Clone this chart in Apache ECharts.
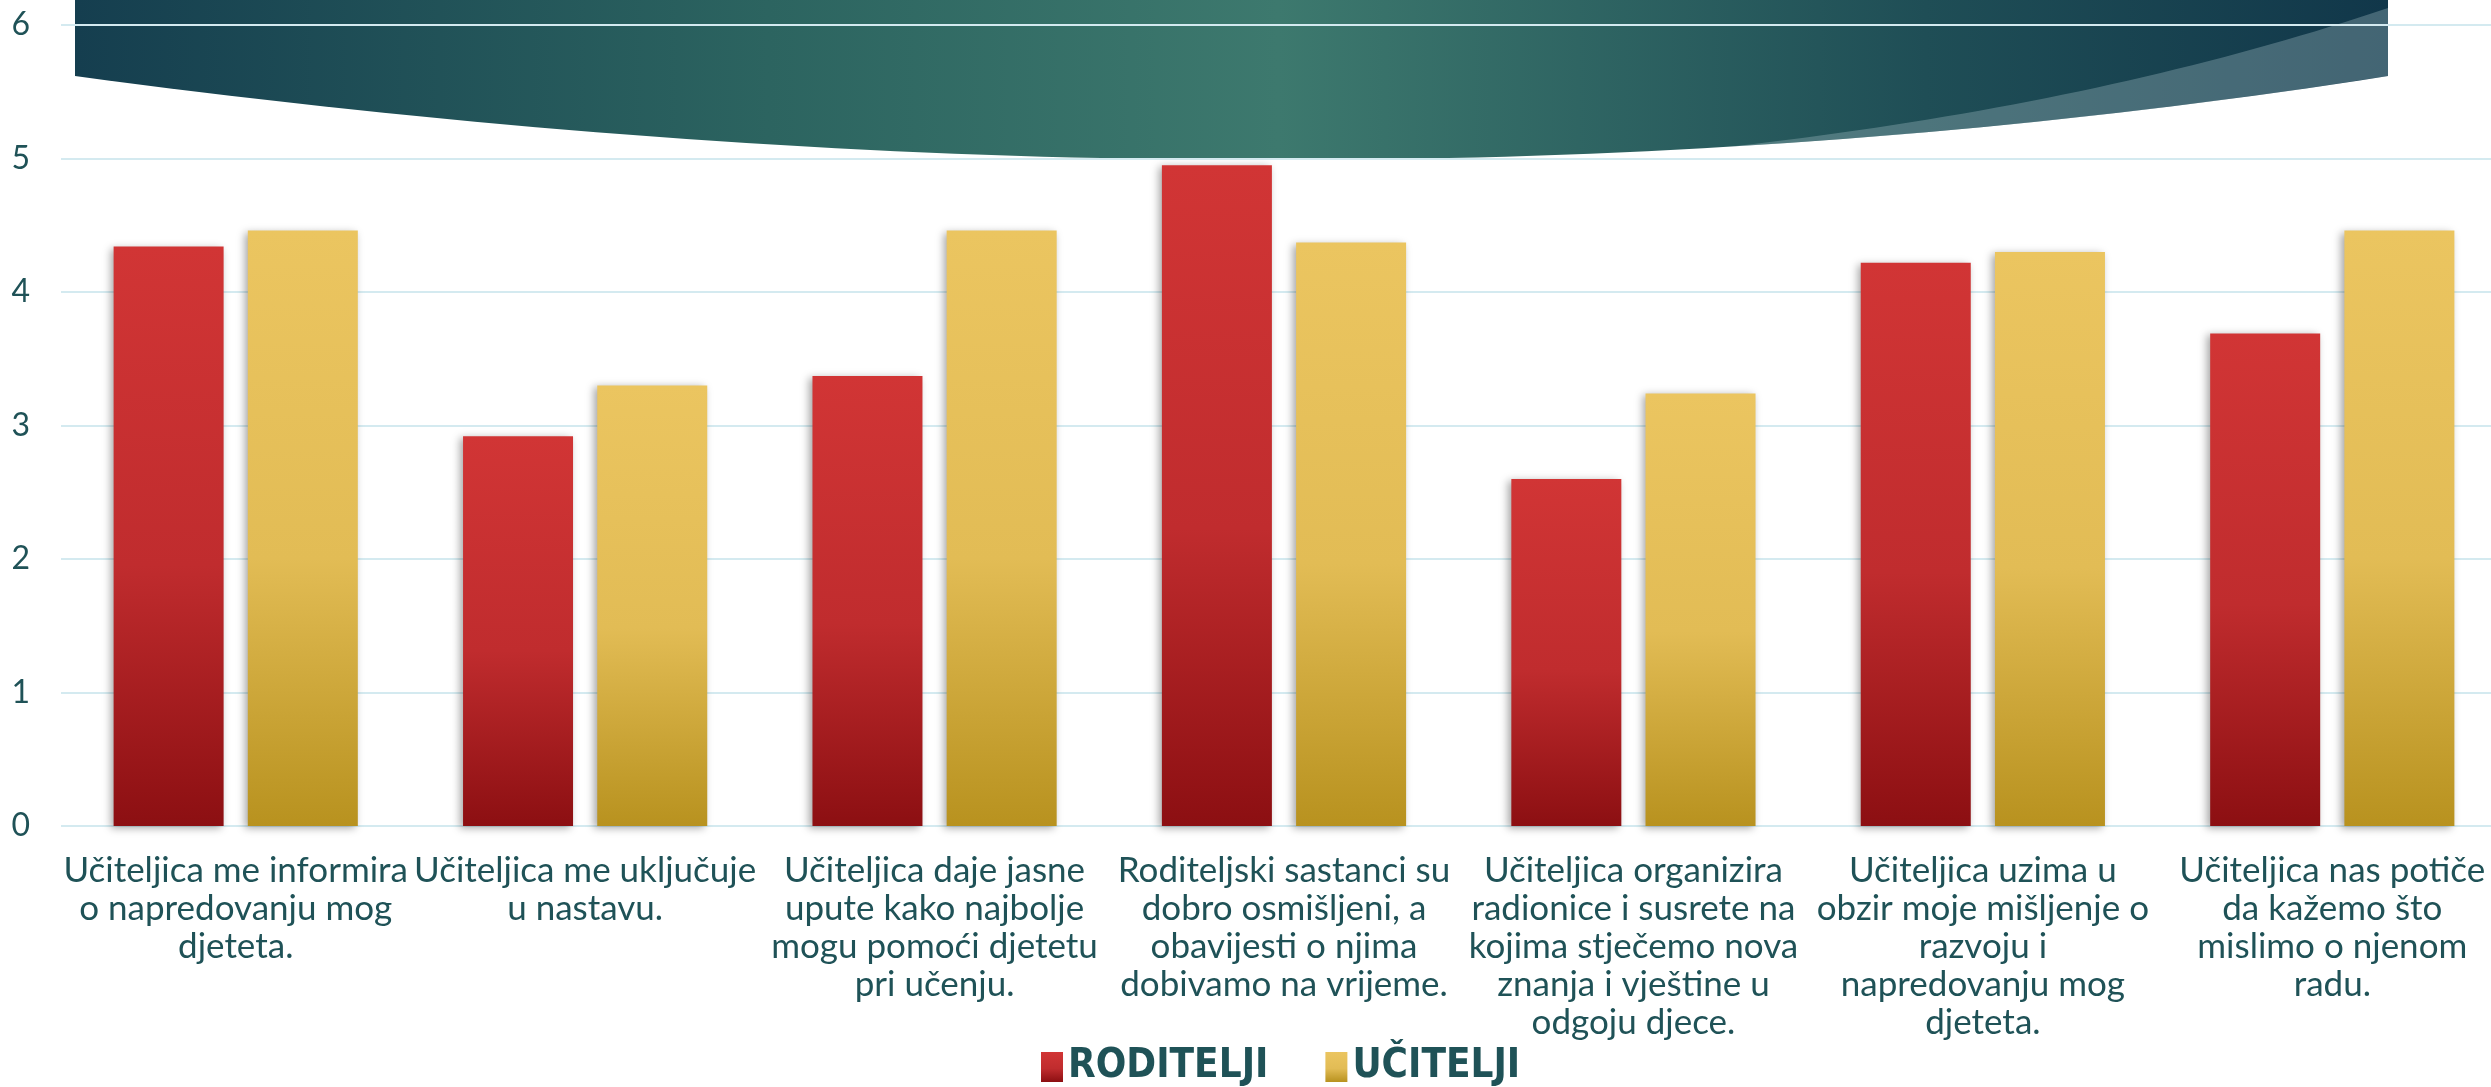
<!DOCTYPE html>
<html>
<head>
<meta charset="utf-8">
<script src="https://cdn.jsdelivr.net/npm/echarts@6/dist/echarts.min.js"></script>
<style>
html,body{margin:0;padding:0;background:#ffffff;overflow:hidden;}
#chart{width:2512px;height:1087px;}
</style>
</head>
<body>
<div id="chart"></div>
<script>
const categories = [
  "Učiteljica me informira\no napredovanju mog\ndjeteta.",
  "Učiteljica me uključuje\nu nastavu.",
  "Učiteljica daje jasne\nupute kako najbolje\nmogu pomoći djetetu\npri učenju.",
  "Roditeljski sastanci su\ndobro osmišljeni, a\nobavijesti o njima\ndobivamo na vrijeme.",
  "Učiteljica organizira\nradionice i susrete na\nkojima stječemo nova\nznanja i vještine u\nodgoju djece.",
  "Učiteljica uzima u\nobzir moje mišljenje o\nrazvoju i\nnapredovanju mog\ndjeteta.",
  "Učiteljica nas potiče\nda kažemo što\nmislimo o njenom\nradu."
];
const seriesNames = ["RODITELJI", "UČITELJI"];
const roditelji = [4.34, 2.92, 3.37, 4.95, 2.60, 4.22, 3.69];
const ucitelji = [4.46, 3.30, 4.46, 4.37, 3.24, 4.30, 4.46];
const yMin = 0, yMax = 6, yInterval = 1;

const textColor = '#1f5257';
function lin(x, y, x2, y2, stops) {
  return {type: 'linear', x: x, y: y, x2: x2, y2: y2,
    colorStops: stops.map(s => ({offset: s[0], color: s[1]}))};
}
const redGrad = lin(0, 0, 0, 1, [[0, '#d13535'], [0.55, '#c02c2e'], [1, '#8c0f12']]);
const yellowGrad = lin(0, 0, 0, 1, [[0, '#ebc560'], [0.55, '#e2bc55'], [1, '#b8921f']]);
const bannerGrad = lin(0, 0, 1, 0, [[0, '#153e4f'], [0.3, '#2c6460'], [0.52, '#3d796e'], [0.8, '#1f4e56'], [1, '#11374a']]);

// decorative banner outline (quadratic curves sampled to polygon points)
function quad(p0, p1, p2, n) {
  const pts = [];
  for (let i = 0; i <= n; i++) {
    const t = i / n, a = (1 - t) * (1 - t), b = 2 * t * (1 - t), c = t * t;
    pts.push([a * p0[0] + b * p1[0] + c * p2[0], a * p0[1] + b * p1[1] + c * p2[1]]);
  }
  return pts;
}
const bannerPts = [[75, 0], [2388, 0]].concat(quad([2388, 76], [1320, 244], [75, 76], 80));
const overlayPts = quad([2388, 8], [2100, 105], [1731, 146.5], 40).concat(quad([1731, 146.5], [2067.6, 126.4], [2388, 76], 30));

const chart = echarts.init(document.getElementById('chart'), null, {renderer: 'canvas'});
const barShadow = {shadowColor: 'rgba(0,0,0,0.35)', shadowBlur: 8, shadowOffsetX: -3, shadowOffsetY: 2};
chart.setOption({
  animation: false,
  backgroundColor: '#ffffff',
  graphic: [
    {type: 'polygon', z: -10, silent: true,
     shape: {points: bannerPts},
     style: {fill: bannerGrad}},
    {type: 'polygon', z: -9, silent: true,
     shape: {points: overlayPts},
     style: {fill: 'rgba(175,200,205,0.32)'}}
  ],
  grid: {left: 61, top: 25, right: 5, bottom: 261, containLabel: false},
  legend: {
    left: 1036, top: 1042,
    itemWidth: 22, itemHeight: 30, itemGap: 57,
    icon: 'rect',
    textStyle: {fontFamily: '"DejaVu Sans Condensed", "Liberation Sans Narrow", sans-serif', fontWeight: 'bold', fontSize: 40, color: '#1f5257'},
    data: seriesNames
  },
  xAxis: {
    type: 'category', data: categories,
    axisLine: {show: false}, axisTick: {show: false},
    axisLabel: {interval: 0, margin: 26, color: textColor, fontFamily: 'Lato, "Open Sans", sans-serif', fontSize: 35, lineHeight: 38, align: 'center'}
  },
  yAxis: {
    type: 'value', min: yMin, max: yMax, interval: yInterval,
    axisLine: {show: false}, axisTick: {show: false},
    axisLabel: {margin: 31, color: textColor, fontFamily: 'Lato, "Open Sans", sans-serif', fontSize: 32},
    splitLine: {lineStyle: {color: '#d4eaf0', width: 2}}
  },
  series: [
    {name: seriesNames[0], type: 'bar', data: roditelji, barWidth: 110, barGap: '22%',
     itemStyle: Object.assign({color: redGrad}, barShadow)},
    {name: seriesNames[1], type: 'bar', data: ucitelji, barWidth: 110, barGap: '22%',
     itemStyle: Object.assign({color: yellowGrad}, barShadow)}
  ]
});
</script>
</body>
</html>
